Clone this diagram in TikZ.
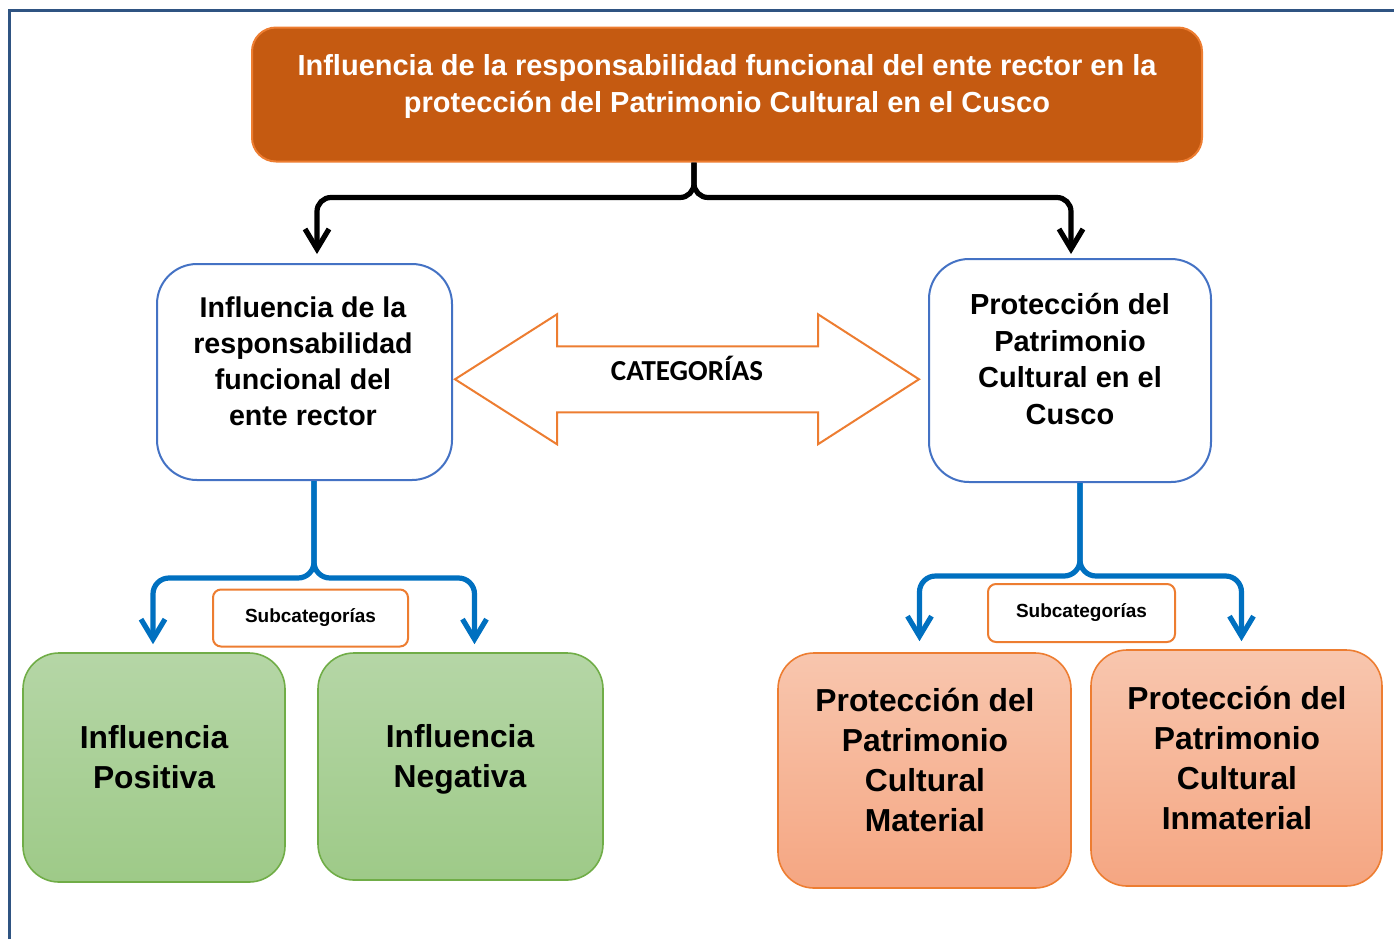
\documentclass[tikz,border=0pt]{standalone}
\usepackage{fontspec}
\setmainfont{Liberation Sans}
\newfontfamily\catfont{Carlito}
\usepackage{tikz}
\usetikzlibrary{arrows.meta,positioning,calc}
\definecolor{titlefill}{RGB}{197,90,17}
\definecolor{accent}{RGB}{237,125,49}
\definecolor{boxblue}{RGB}{68,114,196}
\definecolor{linkblue}{RGB}{0,112,192}
\definecolor{framecol}{RGB}{47,84,130}
\definecolor{greentop}{RGB}{181,214,166}
\definecolor{greenbot}{RGB}{158,202,136}
\definecolor{greenline}{RGB}{112,173,71}
\definecolor{salmontop}{RGB}{248,198,174}
\definecolor{salmonbot}{RGB}{245,166,130}
\tikzstyle{line} = [draw, line width=2.6pt, -{Straight Barb[length=10pt,width=12pt]}]

\begin{document}
\begin{tikzpicture}[x=0.5pt,y=-0.5pt,
    titlebox/.style={
      draw=accent,
      line width=1pt,
      fill=titlefill,
      rounded corners=12pt,
      minimum width=475pt,
      minimum height=67pt
    },
    catbox/.style={
      draw=boxblue,
      line width=1pt,
      fill=white,
      rounded corners=20pt
    },
    greenbox/.style={
      draw=greenline,
      line width=0.8pt,
      top color=greentop,
      bottom color=greenbot,
      rounded corners=18pt
    },
    salmonbox/.style={
      draw=accent,
      line width=0.8pt,
      top color=salmontop,
      bottom color=salmonbot,
      rounded corners=18pt
    },
    subbox/.style={
      draw=accent,
      line width=1pt,
      fill=white,
      rounded corners=4pt,
      font=\fontsize{9.5}{11}\selectfont\bfseries
    },
    txt/.style={
      align=center,
      inner sep=0pt,
      font=\fontsize{14.3}{18}\selectfont\bfseries
    },
    bigtxt/.style={
      align=center,
      inner sep=0pt,
      font=\fontsize{15.9}{20}\selectfont\bfseries
    }
  ]

  \useasboundingbox (0,0) rectangle (1394,939);
  \draw[framecol,line width=1.5pt] (9,939) -- (9,10) -- (1394,10);

  \node[titlebox] (title) at (727,94.5) {};
  \node[txt,text=white,font=\fontsize{14.5}{18.5}\selectfont\bfseries] (titleT) at (727,86.5)
    {Influencia de la responsabilidad funcional del ente rector en la\\protección del Patrimonio Cultural en el Cusco};

  \node[catbox,minimum width=147.5pt,minimum height=108pt] (resp) at (304.5,372) {};
  \node[txt] (respT) at (303,361.5) {Influencia de la\\responsabilidad\\funcional del\\ente rector};

  \node[catbox,minimum width=141pt,minimum height=111.5pt] (prot) at (1070,370.5) {};
  \node[txt,font=\fontsize{14.5}{18.3}\selectfont\bfseries] (protT) at (1070,359) {Protección del\\Patrimonio\\Cultural en el\\Cusco};

  \node[greenbox,minimum width=131pt,minimum height=114.5pt] (pos) at (154,767.5) {};
  \node[bigtxt] (posT) at (154,757) {Influencia\\Positiva};
  \node[greenbox,minimum width=142.5pt,minimum height=113.5pt] (neg) at (460.5,766.5) {};
  \node[bigtxt] (negT) at (460,759.5) {Influencia\\Negativa};

  \node[salmonbox,minimum width=146.5pt,minimum height=117.5pt] (mat) at (924.5,770.5) {};
  \node[bigtxt] (matT) at (925,760) {Protección del\\Patrimonio\\Cultural\\Material};
  \node[salmonbox,minimum width=145.5pt,minimum height=118pt] (inm) at (1236.5,768) {};
  \node[bigtxt] (inmT) at (1237,757.5) {Protección del\\Patrimonio\\Cultural\\Inmaterial};

  \node[subbox,minimum width=97.5pt,minimum height=28.5pt] (subL) at (310.5,618) {Subcategorías};
  \node[subbox,minimum width=93.5pt,minimum height=29pt] (subR) at (1081.5,613) {Subcategorías};

  % double arrow between the two categories
  \coordinate (catc) at ($(resp.east)!0.5!(prot.west)+(-3.5,8)$);
  \draw[accent,line width=1pt,fill=white] (catc) ++(-232,0) -- ++(102,-65) -- ++(0,32)
    -- ++(261,0) -- ++(0,-32) -- ++(101,65) -- ++(-101,65) -- ++(0,-32)
    -- ++(-261,0) -- ++(0,32) -- cycle;
  \node[font=\catfont\fontsize{14.5}{16}\selectfont\bfseries,anchor=base] (cat) at ($(catc)+(0,1)$) {CATEGORÍAS};

  % connectors
  \coordinate (tsplit) at ($(title.south)+(-33,0)$);
  \draw[line,rounded corners=7pt] (tsplit) -- ++(0,35) -| ($(resp.north)+(12.5,-9)$);
  \draw[line,rounded corners=7pt] (tsplit) -- ++(0,35) -| ($(prot.north)+(1,-4)$);

  \coordinate (lsplit) at ($(resp.south)+(9.5,0)$);
  \draw[line,linkblue,rounded corners=8pt] (lsplit) -- ++(0,97) -| ($(pos.north)+(-1,-8)$);
  \draw[line,linkblue,rounded corners=8pt] (lsplit) -- ++(0,97) -| ($(neg.north)+(14,-8)$);

  \coordinate (rsplit) at ($(prot.south)+(10,0)$);
  \draw[line,linkblue,rounded corners=8pt] (rsplit) -- ++(0,93) -| ($(mat.north)+(-5,-11)$);
  \draw[line,linkblue,rounded corners=8pt] (rsplit) -- ++(0,93) -| ($(inm.north)+(5,-8)$);

\end{tikzpicture}
\end{document}
